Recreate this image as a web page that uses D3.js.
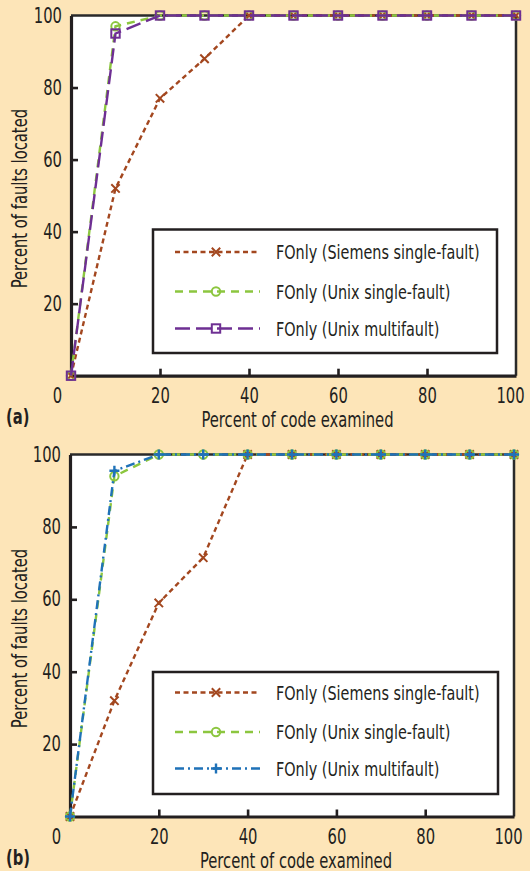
<!DOCTYPE html>
<html>
<head>
<meta charset="utf-8">
<script src="https://cdn.jsdelivr.net/npm/d3@7"></script>
<style>
  body { margin: 0; background: #fde5b8; }
  svg { display: block; }
  text { font-family: "Liberation Sans Narrow", "DejaVu Sans Condensed", sans-serif; fill: #231f20; }
</style>
</head>
<body>
<div id="chart"></div>
<script>
// values
const xValues = [0, 10, 20, 30, 40, 50, 60, 70, 80, 90, 100];
const xTicks = [0, 20, 40, 60, 80, 100];
const yTicks = [20, 40, 60, 80, 100];

const siemensA = [0, 52, 77, 88, 100, 100, 100, 100, 100, 100, 100];
const unixSingleA = [0, 97, 100, 100, 100, 100, 100, 100, 100, 100, 100];
const unixMultiA = [0, 95, 100, 100, 100, 100, 100, 100, 100, 100, 100];

const siemensB = [0, 32, 59, 71.5, 100, 100, 100, 100, 100, 100, 100];
const unixSingleB = [0, 94, 100, 100, 100, 100, 100, 100, 100, 100, 100];
const unixMultiB = [0, 95.5, 100, 100, 100, 100, 100, 100, 100, 100, 100];

const seriesNames = ["FOnly (Siemens single-fault)", "FOnly (Unix single-fault)", "FOnly (Unix multifault)"];

const xTitle = "Percent of code examined";
const yTitle = "Percent of faults located";

//---------------------------------------------------
/* styles */
const W = 530, H = 871;
const brown = "#a3471f", green = "#8cc63f", purple = "#6e2f93", blue = "#1f72b8";
const lineW = 2.4;
const squeeze = 0.8; // condensed look like the original font

const svg = d3.select("#chart").append("svg")
  .attr("width", W).attr("height", H);

svg.append("rect").attr("width", W).attr("height", H).attr("fill", "#fde5b8");

/* narrow the glyphs of a text selection */
function condense(sel) {
  sel.each(function() {
    const len = this.getComputedTextLength();
    d3.select(this).attr("textLength", len * squeeze).attr("lengthAdjust", "spacingAndGlyphs");
  });
}

function marker(g, type, color, x, y) {
  const s = 4.2;
  if (type === "x") {
    g.append("path").attr("d", `M${x - s},${y - s}L${x + s},${y + s}M${x - s},${y + s}L${x + s},${y - s}`)
      .attr("stroke", color).attr("stroke-width", 2).attr("fill", "none");
  } else if (type === "o") {
    g.append("circle").attr("cx", x).attr("cy", y).attr("r", 4.2)
      .attr("stroke", color).attr("stroke-width", 2).attr("fill", "none");
  } else if (type === "s") {
    g.append("rect").attr("x", x - 4.2).attr("y", y - 4.2).attr("width", 8.4).attr("height", 8.4)
      .attr("stroke", color).attr("stroke-width", 2).attr("fill", "none");
  } else if (type === "+") {
    g.append("path").attr("d", `M${x - 5},${y}L${x + 5},${y}M${x},${y - 5}L${x},${y + 5}`)
      .attr("stroke", color).attr("stroke-width", 2.4).attr("fill", "none");
  }
}

//---------------------------------------------------
/* one panel */
function drawPanel(p) {
  const x = d3.scaleLinear().domain([0, 100]).range([p.left, p.right]);
  const y = d3.scaleLinear().domain([0, 100]).range([p.bottom, p.top]);
  const g = svg.append("g");

  g.append("rect")
    .attr("x", p.left).attr("y", p.top)
    .attr("width", p.right - p.left).attr("height", p.bottom - p.top)
    .attr("fill", "#fff");

  // top and right border
  g.append("path")
    .attr("d", `M${p.left},${p.top}H${p.right}V${p.bottom}`)
    .attr("fill", "none").attr("stroke", "#2a2a2a").attr("stroke-width", 2.5);

  const xAxis = g.append("g")
    .attr("transform", `translate(0,${p.bottom})`)
    .call(d3.axisBottom(x).tickValues(xTicks).tickSizeInner(-7).tickSizeOuter(0).tickPadding(8));
  const yAxis = g.append("g")
    .attr("transform", `translate(${p.left},0)`)
    .call(d3.axisLeft(y).tickValues(yTicks).tickSizeInner(-7).tickSizeOuter(0).tickPadding(9));

  [xAxis, yAxis].forEach(a => {
    a.select(".domain").attr("stroke", "#231f20").attr("stroke-width", 3.2);
    a.selectAll(".tick line").attr("stroke", "#231f20").attr("stroke-width", 2.6);
    a.selectAll("text").attr("font-size", 20.5)
      .style("font-family", "'Liberation Sans Narrow', 'DejaVu Sans Condensed', sans-serif")
      .attr("fill", "#231f20")
      .call(condense);
  });
  xAxis.selectAll(".tick line").filter(d => d === 0 || d === 100).remove();
  yAxis.selectAll(".tick line").filter(d => d === 100).remove();
  xAxis.selectAll(".tick text").filter(d => d === 0).attr("dx", -14);
  xAxis.selectAll(".tick text").filter(d => d === 100).attr("dx", -6);
  xAxis.selectAll(".tick text").attr("dy", "0.95em");

  // axis titles
  g.append("text")
    .attr("x", (p.left + p.right) / 2 + 4).attr("y", p.bottom + p.xTitleGap)
    .attr("text-anchor", "middle").attr("font-size", 20.5)
    .text(xTitle)
    .call(condense);
  g.append("text")
    .attr("transform", `translate(27,${(p.top + p.bottom) / 2 + 3}) rotate(-90)`)
    .attr("text-anchor", "middle").attr("font-size", 20.5)
    .text(yTitle)
    .call(condense);
  g.append("text")
    .attr("x", 6).attr("y", p.bottom + p.xTitleGap - 3)
    .attr("font-size", 20.5).attr("font-weight", "bold")
    .text(p.label)
    .call(condense);

  // lines
  const line = d3.line().x((d, i) => x(xValues[i])).y(d => y(d));
  p.series.forEach(s => {
    g.append("path")
      .attr("d", line(s.values))
      .attr("fill", "none")
      .attr("stroke", s.color)
      .attr("stroke-width", lineW)
      .attr("stroke-dasharray", s.dash);
    const mg = g.append("g");
    s.values.forEach((v, i) => marker(mg, s.marker, s.color, x(xValues[i]), y(v)));
  });

  // legend
  const lg = g.append("g");
  lg.append("rect")
    .attr("x", p.legend.x0).attr("y", p.legend.y0)
    .attr("width", p.legend.x1 - p.legend.x0).attr("height", p.legend.y1 - p.legend.y0)
    .attr("fill", "#fff").attr("stroke", "#231f20").attr("stroke-width", 2.5);
  p.series.forEach((s, i) => {
    const ry = p.legend.rows[i];
    lg.append("path")
      .attr("d", `M${p.legend.x0 + 22},${ry}H${p.legend.x0 + 107}`)
      .attr("fill", "none").attr("stroke", s.color)
      .attr("stroke-width", lineW).attr("stroke-dasharray", s.dash);
    marker(lg, s.marker, s.color, p.legend.x0 + 63, ry);
    lg.append("text")
      .attr("x", p.legend.x0 + 123).attr("y", ry)
      .attr("dy", "0.35em").attr("font-size", 20)
      .text(seriesNames[i])
      .call(condense);
  });
}

drawPanel({
  left: 71, right: 516, top: 15.5, bottom: 375.7, xTitleGap: 51, label: "(a)",
  series: [
    { values: siemensA, color: brown, dash: "5,3.5", marker: "x" },
    { values: unixSingleA, color: green, dash: "8,6", marker: "o" },
    { values: unixMultiA, color: purple, dash: "15,6", marker: "s" }
  ],
  legend: { x0: 153, x1: 497, y0: 229.5, y1: 353, rows: [252, 291.5, 328.5] }
});

drawPanel({
  left: 70, right: 514, top: 454.5, bottom: 816.5, xTitleGap: 51, label: "(b)",
  series: [
    { values: siemensB, color: brown, dash: "5,3.5", marker: "x" },
    { values: unixSingleB, color: green, dash: "8,6", marker: "o" },
    { values: unixMultiB, color: blue, dash: "9,4,2,4", marker: "+" }
  ],
  legend: { x0: 153, x1: 498, y0: 672, y1: 794, rows: [692.5, 732, 768.5] }
});
</script>
</body>
</html>
